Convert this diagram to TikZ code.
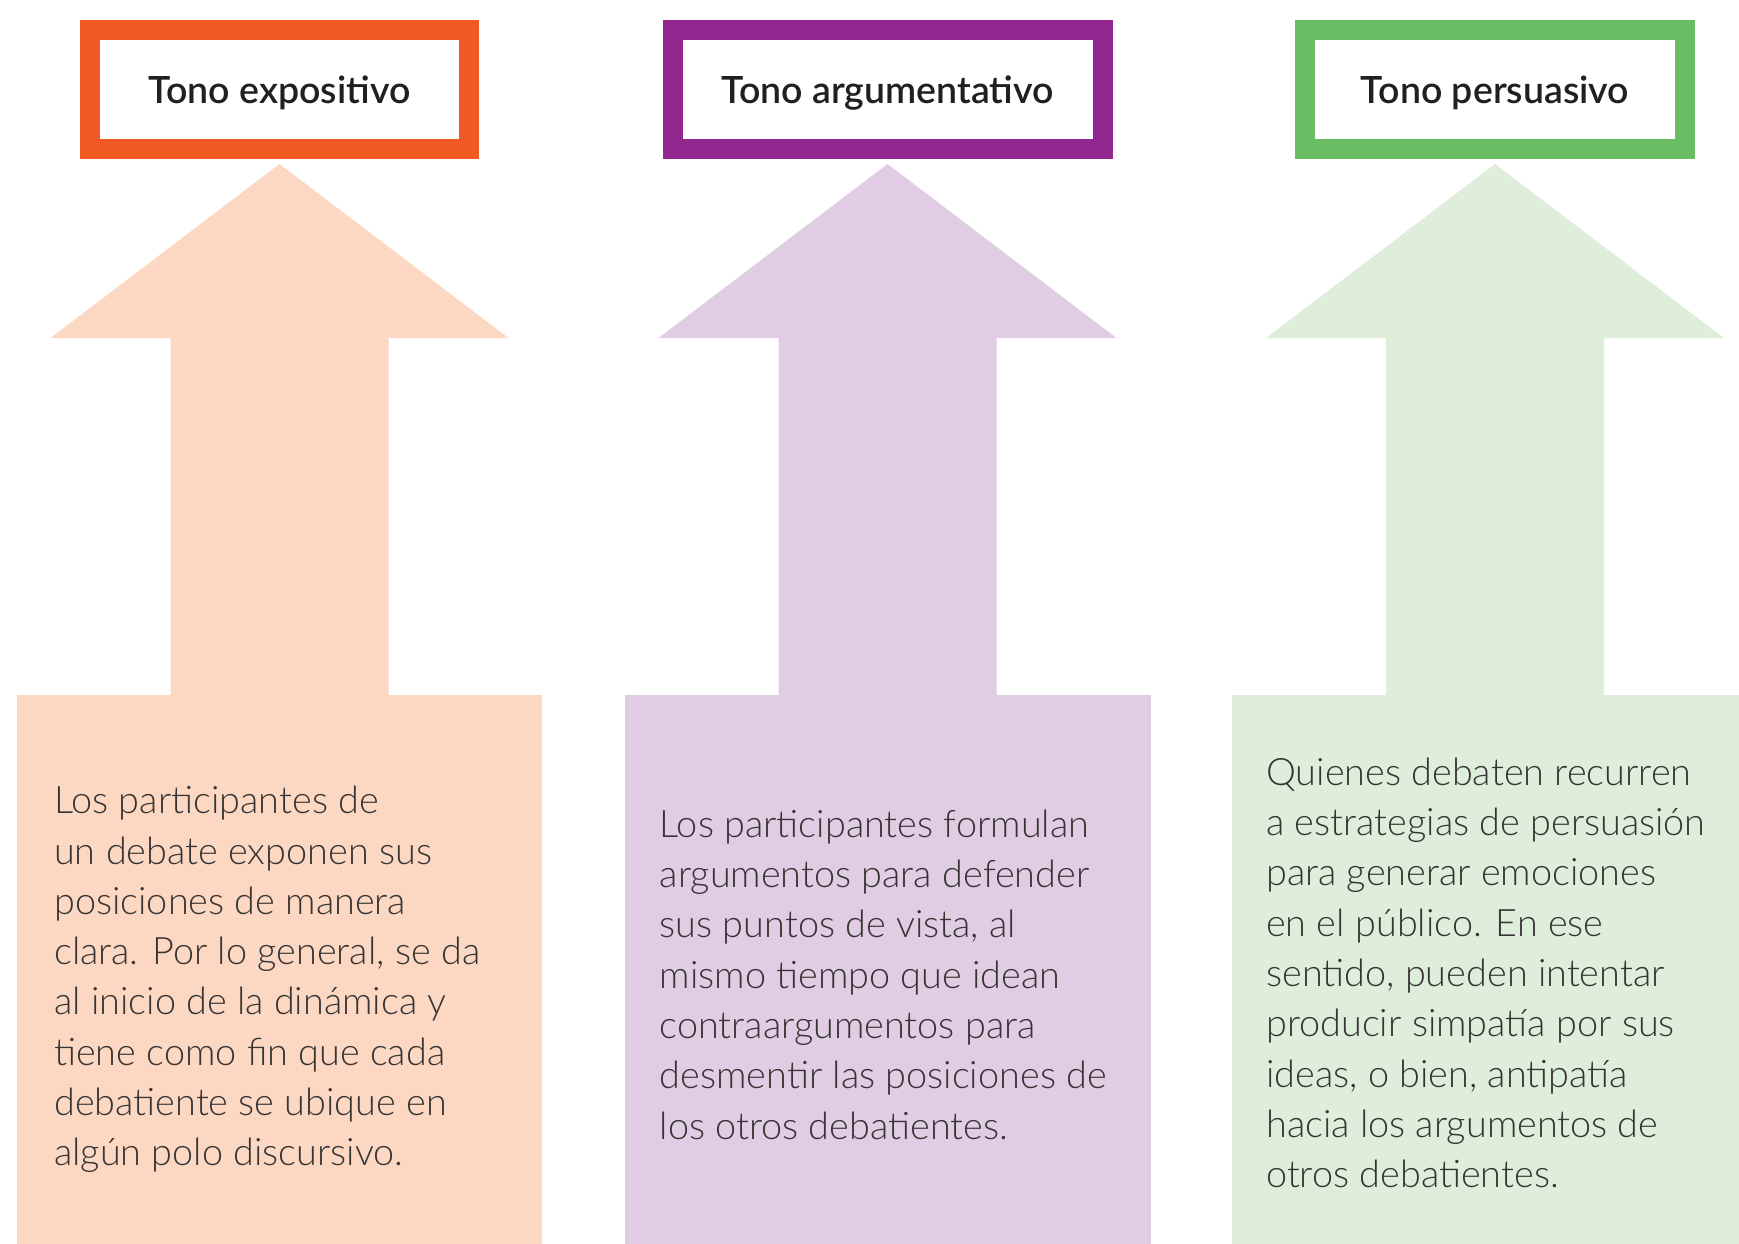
\documentclass[tikz,border=0pt]{standalone}
\usepackage{fontspec}
\IfFontExistsTF{Lato Light}{\setmainfont{Lato Light}}{\setmainfont{Lato}}
\IfFontExistsTF{Lato Semibold}{\newfontfamily\titlefont{Lato Semibold}}{\newfontfamily\titlefont{Lato}}
\definecolor{orng}{HTML}{F15A22}
\definecolor{peach}{HTML}{FCD8C3}
\definecolor{purp}{HTML}{92278F}
\definecolor{lilac}{HTML}{E0CCE3}
\definecolor{grn}{HTML}{6ABD62}
\definecolor{mint}{HTML}{DFEEDB}
\definecolor{titlecol}{HTML}{231F20}
\definecolor{bodycol}{HTML}{363434}
\tikzset{
  tbox/.style={draw=#1, line width=20pt, fill=white, minimum height=119pt, inner sep=0pt,
    font=\titlefont\fontsize{37.5}{40}\selectfont, text=titlecol, text height=27pt, text depth=0pt},
  panel/.style={fill=#1, minimum height=560pt, inner sep=0pt, anchor=north},
  bodytext/.style={anchor=north west, inner sep=0pt, align=left, text=bodycol,
    font=\fontsize{37.8}{50.3}\selectfont},
}
\begin{document}
\begin{tikzpicture}[x=1pt,y=-1pt]
\useasboundingbox (0,0) rectangle (1739,1243);
\fill[white] (0,0) rectangle (1739,1243);
\clip (0,0) rectangle (1739,1243);
% column 1
\node[tbox=orng, minimum width=379pt] (t1) at (279.5,89.5) {Tono expositivo};
\node[panel=peach, minimum width=525pt] (p1) at (279.5,695) {};
\fill[peach] (279.5,164) -- (508.5,338) -- (388.5,338) -- (388.5,696) -- (170.5,696) -- (170.5,338) -- (50.5,338) -- cycle;
\node[bodytext] (b1) at (54,773.5) {\rule{0pt}{40pt}Los participantes de\\
un debate exponen sus\\
posiciones de manera\\
clara. Por lo general, se da\\
al inicio de la dinámica y\\
tiene como fin que cada\\
debatiente se ubique en\\
algún polo discursivo.};
% column 2
\node[tbox=purp, minimum width=430pt] (t2) at (887.5,89.5) {Tono argumentativo};
\node[panel=lilac, minimum width=526pt] (p2) at (887.5,695) {};
\fill[lilac] (887.5,164) -- (1116.5,338) -- (996.5,338) -- (996.5,696) -- (778.5,696) -- (778.5,338) -- (658.5,338) -- cycle;
\node[bodytext] (b2) at (659.5,797) {\rule{0pt}{40pt}Los participantes formulan\\
argumentos para defender\\
sus puntos de vista, al\\
mismo tiempo que idean\\
contraargumentos para\\
desmentir las posiciones de\\
los otros debatientes.};
% column 3
\node[tbox=grn, minimum width=380pt] (t3) at (1495,89.5) {Tono persuasivo};
\node[panel=mint, minimum width=526pt] (p3) at (1495,695) {};
\fill[mint] (1495,164) -- (1724,338) -- (1604,338) -- (1604,696) -- (1386,696) -- (1386,338) -- (1266,338) -- cycle;
\node[bodytext] (b3) at (1266,745) {\rule{0pt}{40pt}Quienes debaten recurren\\
a estrategias de persuasión\\
para generar emociones\\
en el público. En ese\\
sentido, pueden intentar\\
producir simpatía por sus\\
ideas, o bien, antipatía\\
hacia los argumentos de\\
otros debatientes.};
\end{tikzpicture}
\end{document}
